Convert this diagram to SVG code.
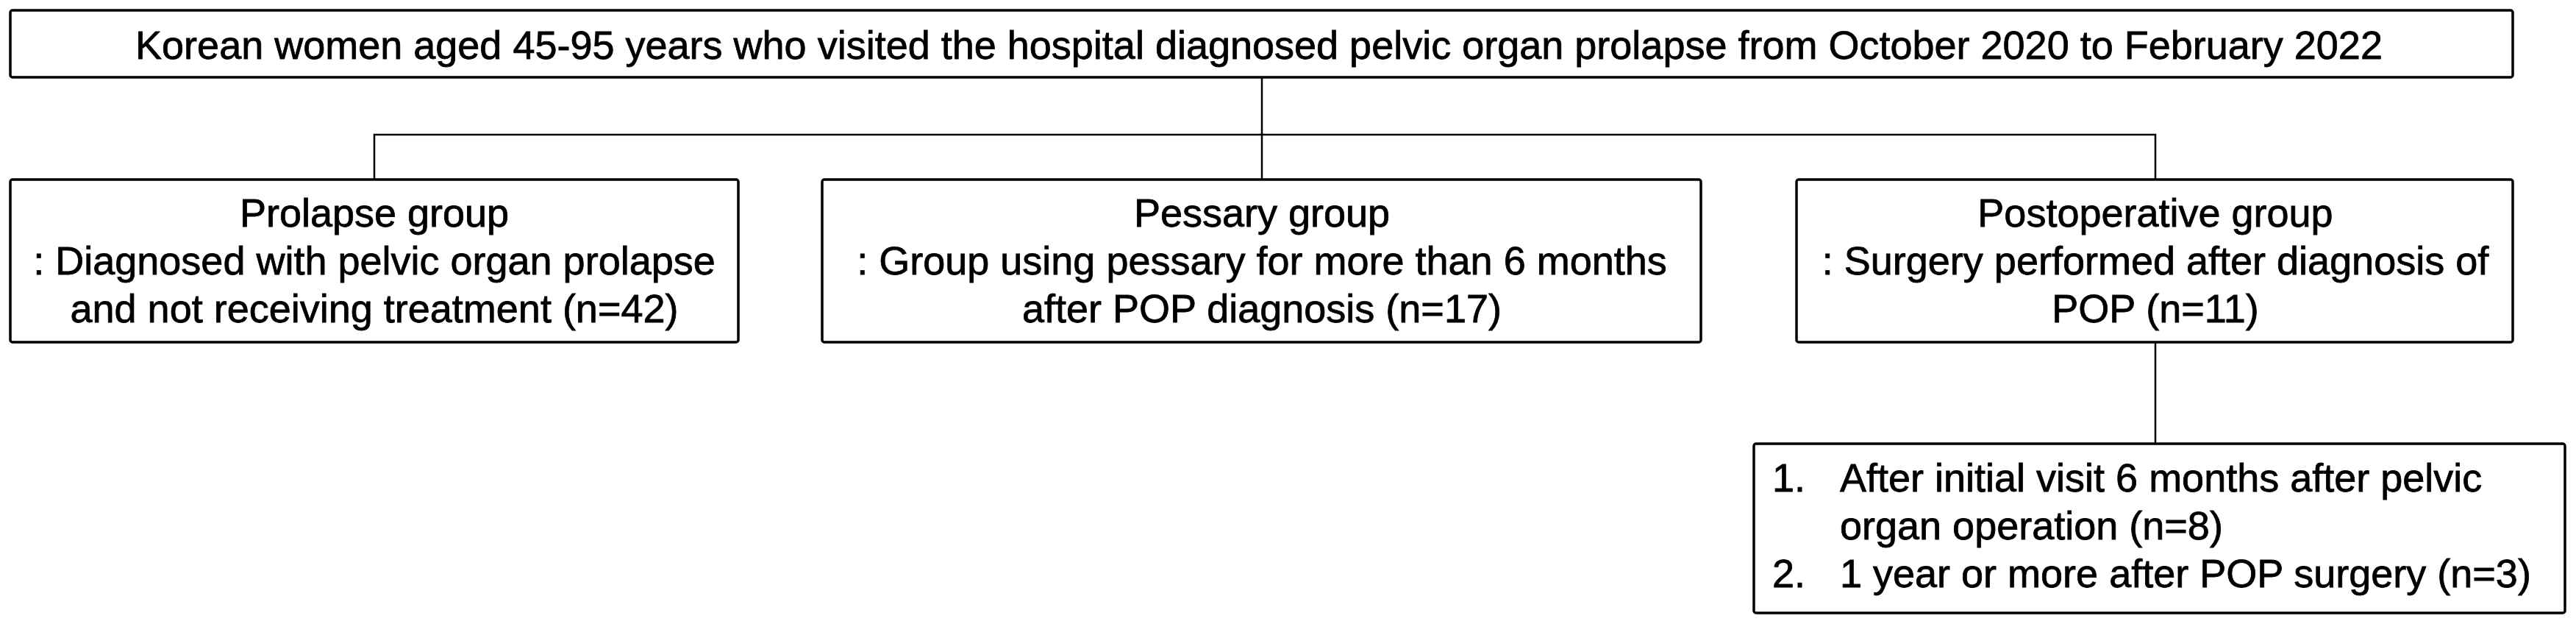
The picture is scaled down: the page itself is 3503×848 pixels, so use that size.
<svg xmlns="http://www.w3.org/2000/svg" width="3503" height="848" viewBox="0 0 3503 848">
<style>
.box{fill:#fff;stroke:#000;stroke-width:3.5}
.t{font-family:"Liberation Sans",Arial,sans-serif;font-size:54px;fill:#000;stroke:#000;stroke-width:0.8}
.c{text-anchor:middle}
.conn{fill:none;stroke:#000;stroke-width:2.5}
</style>
<rect width="3503" height="848" fill="#fff"/>
<g id="connectors">
<path class="conn" d="M1716 105 V183"/>
<path class="conn" d="M509 244 V183 H2931 V244"/>
<path class="conn" d="M1716 183 V244"/>
<path class="conn" d="M2931 465 V603"/>
</g>
<g id="top">
<rect class="box" x="14" y="14" width="3403" height="91" rx="3"/>
<text class="t c" x="1712" y="80">Korean women aged 45-95 years who visited the hospital diagnosed pelvic organ prolapse from October 2020 to February 2022</text>
</g>
<g id="prolapse">
<rect class="box" x="14" y="244" width="990" height="221" rx="3"/>
<text class="t c" x="509" y="308">Prolapse group</text>
<text class="t c" x="509" y="373">: Diagnosed with pelvic organ prolapse</text>
<text class="t c" x="509" y="438">and not receiving treatment (n=42)</text>
</g>
<g id="pessary">
<rect class="box" x="1118" y="244" width="1195" height="221" rx="3"/>
<text class="t c" x="1716" y="308">Pessary group</text>
<text class="t c" x="1716" y="373">: Group using pessary for more than 6 months</text>
<text class="t c" x="1716" y="438">after POP diagnosis (n=17)</text>
</g>
<g id="postop">
<rect class="box" x="2443" y="244" width="974" height="221" rx="3"/>
<text class="t c" x="2931" y="308">Postoperative group</text>
<text class="t c" x="2931" y="373">: Surgery performed after diagnosis of</text>
<text class="t c" x="2931" y="438">POP (n=11)</text>
</g>
<g id="subgroups">
<rect class="box" x="2385" y="603" width="1103" height="230" rx="3"/>
<text class="t" x="2410" y="668">1.</text>
<text class="t" x="2502" y="668">After initial visit 6 months after pelvic</text>
<text class="t" x="2502" y="733">organ operation (n=8)</text>
<text class="t" x="2410" y="798">2.</text>
<text class="t" x="2502" y="798">1 year or more after POP surgery (n=3)</text>
</g>
</svg>
